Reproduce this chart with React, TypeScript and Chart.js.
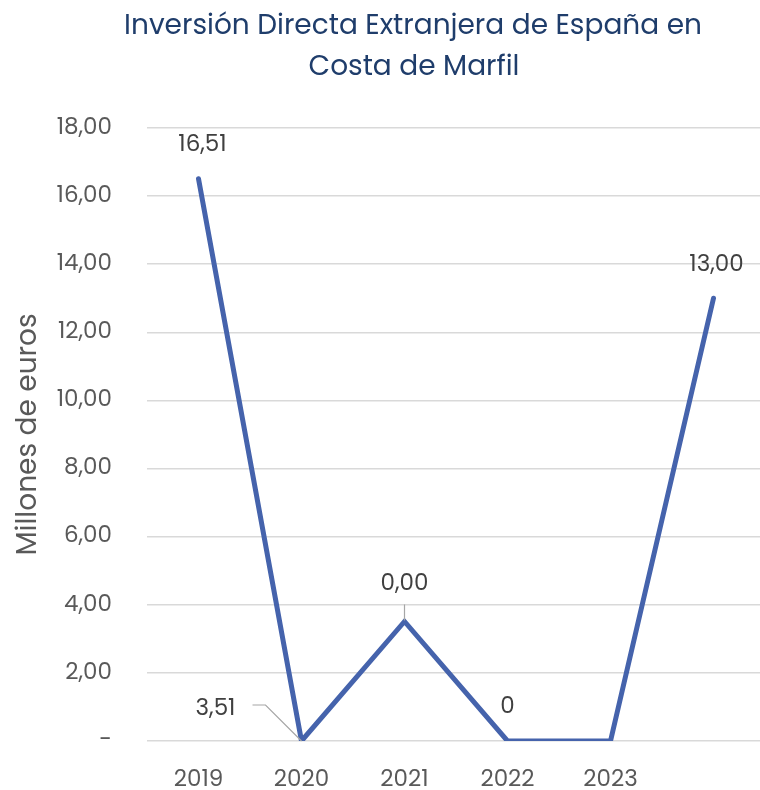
import React, { useEffect, useRef } from "react";
import { Chart, registerables } from "chart.js";

Chart.register(...registerables);

const titleLines = ["Inversión Directa Extranjera de España en", "Costa de Marfil"];
const yAxisTitle = "Millones de euros";
const categories = ["2019", "2020", "2021", "2022", "2023", ""];
const values = [16.51, 0, 3.51, 0, 0, 13.0];
const pointLabels = ["16,51", "3,51", "0,00", "0", "", "13,00"];

const FONT = "Poppins, Inter, 'Open Sans', sans-serif";
const TEXT = "#595959";

// label offsets (dx, dy) relative to the point, and optional leader lines
const labelStyle = [
  { dx: 4, dy: -33, leader: null },
  { dx: -86, dy: -32, leader: [[-49, -36], [-36, -36], [0, 0]] },
  { dx: 0, dy: -37, leader: [[0, -17], [0, -1]] },
  { dx: 0, dy: -34, leader: null },
  { dx: 0, dy: 0, leader: null },
  { dx: 3, dy: -33, leader: null },
];

const overlayPlugin = {
  id: "overlay",
  afterDraw(chart: any) {
    const ctx = chart.ctx;
    ctx.save();
    // title
    ctx.fillStyle = "#1f3d6b";
    ctx.font = `400 28px ${FONT}`;
    ctx.textAlign = "center";
    ctx.textBaseline = "middle";
    ctx.fillText(titleLines[0], 413, 27);
    ctx.fillText(titleLines[1], 414, 68);
    // data labels
    const meta = chart.getDatasetMeta(0);
    ctx.font = `400 23px ${FONT}`;
    ctx.fillStyle = "#404040";
    meta.data.forEach((pt: any, i: number) => {
      const s = labelStyle[i];
      const txt = pointLabels[i];
      if (!txt) return;
      if (s.leader) {
        ctx.strokeStyle = "#a6a6a6";
        ctx.lineWidth = 1.2;
        ctx.beginPath();
        s.leader.forEach((p: number[], k: number) => {
          const x = pt.x + p[0];
          const y = pt.y + p[1];
          if (k === 0) ctx.moveTo(x, y);
          else ctx.lineTo(x, y);
        });
        ctx.stroke();
      }
      ctx.fillText(txt, pt.x + s.dx, pt.y + s.dy);
    });
    ctx.restore();
  },
};

export default function App() {
  const ref = useRef<HTMLCanvasElement>(null);
  useEffect(() => {
    if (!ref.current) return;
    const chart = new Chart(ref.current, {
      type: "line",
      data: {
        labels: categories,
        datasets: [
          {
            data: values,
            borderColor: "#4563ac",
            borderWidth: 5,
            pointRadius: 0,
            tension: 0,
            borderCapStyle: "round",
            borderJoinStyle: "miter",
          },
        ],
      },
      options: {
        animation: false,
        responsive: false,
        devicePixelRatio: 1,
        layout: { padding: { top: 128, left: 0, right: 3, bottom: 0 } },
        plugins: {
          legend: { display: false },
          title: { display: false },
          tooltip: { enabled: false },
        },
        scales: {
          x: {
            offset: true,
            grid: { display: false, drawTicks: false },
            border: { display: false },
            ticks: {
              color: TEXT,
              font: { family: FONT, size: 23 },
              padding: 25,
              maxRotation: 0,
              autoSkip: false,
            },
            afterFit: (s: any) => {
              s.height = 49;
            },
          },
          y: {
            min: 0,
            max: 18,
            grid: { color: "#d9d9d9", lineWidth: 1.5, drawTicks: false },
            border: { display: false },
            ticks: {
              stepSize: 2,
              color: TEXT,
              padding: 35,
              font: { family: FONT, size: 23 },
              callback: (v: any) => (Number(v) === 0 ? "-" : Number(v).toFixed(2).replace(".", ",")),
            },
            title: {
              display: true,
              text: yAxisTitle,
              color: TEXT,
              font: { family: FONT, size: 28 },
              padding: { top: 12, bottom: 0 },
            },
            afterFit: (s: any) => {
              s.width = 147;
            },
          },
        },
      },
      plugins: [overlayPlugin],
    });
    return () => chart.destroy();
  }, []);
  return (
    <div style={{ position: "absolute", left: 0, top: 0, width: 760, height: 790, overflow: "hidden", background: "#fff" }}>
      <canvas ref={ref} width={768} height={790} style={{ display: "block" }} />
    </div>
  );
}
